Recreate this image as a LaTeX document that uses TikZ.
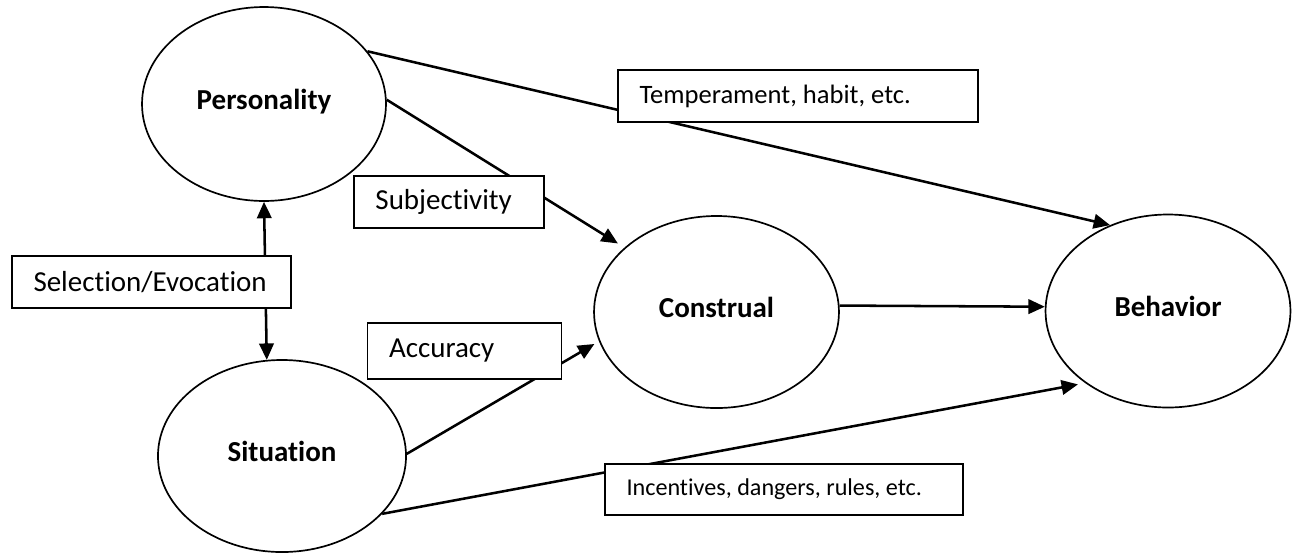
\documentclass[tikz,border=0pt]{standalone}
\usepackage{fontspec}
\setmainfont{Carlito}[Ligatures={NoCommon}]
\usetikzlibrary{arrows.meta,shapes.geometric}
\begin{document}
\begin{tikzpicture}[x=0.414pt,y=-0.414pt,
  oval/.style={ellipse,draw,line width=0.7pt,inner sep=0pt,text height=8.5pt,text depth=4.2pt,
    font=\fontsize{12}{14}\selectfont\bfseries},
  lbox/.style={rectangle,draw,fill=white,line width=0.8pt,inner xsep=8.9pt,inner ysep=0pt},
  conn/.style={line width=1.05pt,-{Triangle[length=6.8pt,width=6pt]}},
  dconn/.style={line width=1.05pt,{Triangle[length=6.8pt,width=6pt]}-{Triangle[length=6.8pt,width=6pt]}}]
\useasboundingbox (0,0) rectangle (1295,553);
% ellipses
\node[oval,minimum width=101pt,minimum height=80.3pt] (pers) at (264,104) {Personality};
\node[oval,minimum width=102.7pt,minimum height=79.5pt] (sit) at (282,456) {Situation};
\node[oval,minimum width=101.4pt,minimum height=79.5pt] (cons) at (716.5,312) {Construal};
\node[oval,minimum width=101.4pt,minimum height=79.9pt] (beh) at (1168,311) {Behavior};
% connectors
\draw[conn] (pers.27.4) -- (beh.124.6);
\draw[conn,shorten >=3.2pt] (pers.2) -- (cons.145);
\draw[conn,shorten >=2.2pt] (sit.1.4) -- (cons.194.2);
\draw[conn] (cons.3.8) -- (beh.178.6);
\draw[conn,shorten >=3pt] (sit.-30.2) -- (beh.221.2);
\draw[dconn] (pers.south) -- (sit.99.5);
% label boxes
\node[lbox,minimum height=21.5pt,font=\fontsize{11}{13}\selectfont] (temp) at (798,96)
  {\makebox[131.2pt][l]{Temperament, habit, etc.}};
\node[lbox,minimum height=21.5pt,font=\fontsize{12}{14}\selectfont] (subj) at (449,202)
  {\makebox[60.9pt][l]{Subjectivity}};
\node[lbox,minimum height=21.5pt,font=\fontsize{12}{14}\selectfont] (sel) at (151.5,282)
  {\makebox[97.7pt][l]{Selection/Evocation}};
\node[lbox,minimum height=23.2pt,font=\fontsize{12}{14}\selectfont] (acc) at (464.5,351)
  {\makebox[62.5pt][l]{Accuracy}};
\node[lbox,minimum height=21.1pt,font=\fontsize{10}{12}\selectfont] (inc) at (784,489.5)
  {\makebox[130.4pt][l]{Incentives, dangers, rules, etc.}};
\end{tikzpicture}
\end{document}
